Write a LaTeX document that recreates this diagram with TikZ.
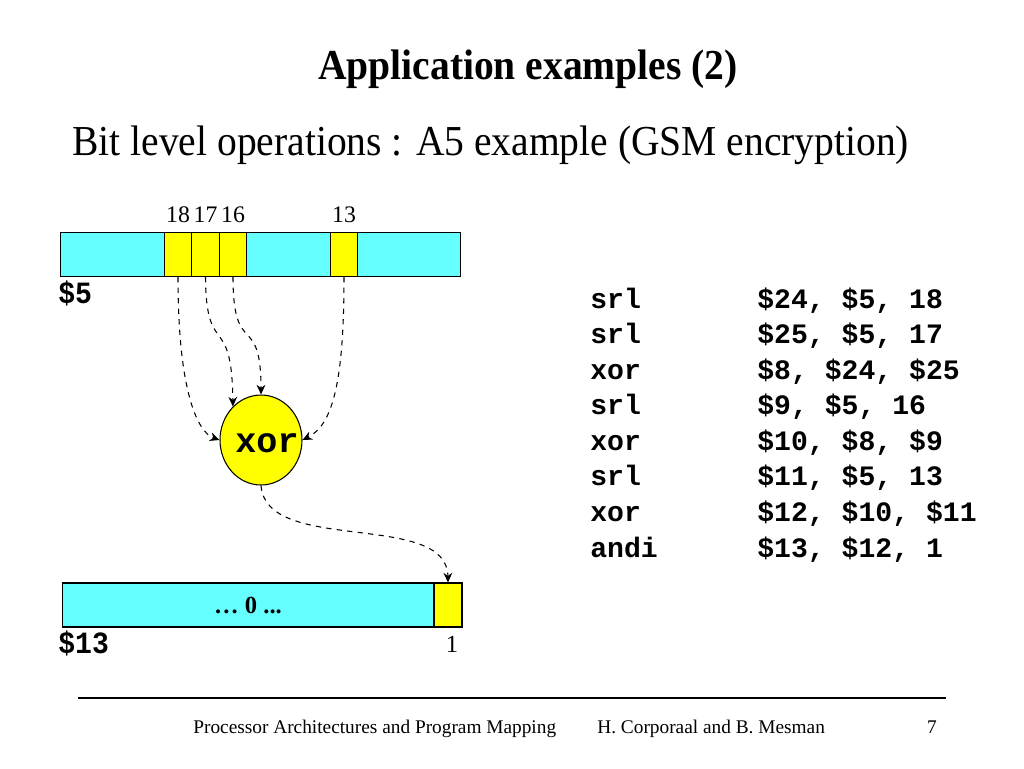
\documentclass[tikz,border=0pt]{standalone}
\usepackage{fontspec}
\setmainfont{Liberation Serif}
\setmonofont{Liberation Mono}
\usepackage{tikz}
\usetikzlibrary{positioning, calc}
\usetikzlibrary{shapes.geometric, arrows.meta}
\definecolor{regcyan}{RGB}{102,255,255}
\definecolor{bityellow}{RGB}{255,255,0}
\tikzset{
  reg/.style={draw, fill=regcyan, line width=0.6pt, minimum height=0.88cm, inner sep=0pt},
  bitcell/.style={draw, fill=bityellow, line width=0.6pt, minimum height=0.88cm, minimum width=0.55cm, inner sep=0pt},
  bitlabel/.style={inner sep=0pt, font=\fontsize{13.5}{16}\selectfont},
  code/.style={inner sep=0pt, font=\fontsize{16}{19}\selectfont\ttfamily\bfseries},
  bigcode/.style={inner sep=0pt, font=\fontsize{20}{24}\selectfont\ttfamily\bfseries},
  flow/.style={dashed, line width=0.6pt, -{Stealth[length=5.5pt,width=5pt]}}
}
\begin{document}
\begin{tikzpicture}[x=0.02cm, y=-0.02cm]
  \useasboundingbox (0,0) rectangle (1024,768);
  % title
  \node[inner sep=0pt, anchor=base, font=\fontsize{22.5}{27}\selectfont\bfseries] (title) at (528,79) {\scalebox{1}[1.08]{Application examples (2)}};
  \node[inner sep=0pt, anchor=base west, font=\fontsize{22.5}{27}\selectfont] (subtitle) at (72,155) {\scalebox{1}[1.08]{Bit level operations : A5 example (GSM encryption)}};
  % register $5
  \node[reg, minimum width=8.02cm] (reg5) at (260.5,254.5) {};
  \node[bitcell] (b18) at (178,254.5) {};
  \node[bitcell] (b17) at (205.5,254.5) {};
  \node[bitcell] (b16) at (233,254.5) {};
  \node[bitcell] (b13) at (344,254.5) {};
  \node[bitlabel, anchor=south, above=0.18cm of b18] (l18) {18};
  \node[bitlabel, anchor=south, above=0.18cm of b17] (l17) {17};
  \node[bitlabel, anchor=south, above=0.18cm of b16] (l16) {16};
  \node[bitlabel, anchor=south, above=0.18cm of b13] (l13) {13};
  \node[code, anchor=base west] (name5) at (58,303) {\scalebox{1}[1.1]{\$5}};
  % xor
  \node[draw, fill=bityellow, ellipse, line width=0.6pt, minimum width=1.64cm, minimum height=1.8cm, inner sep=0pt] (xorop) at (261,440) {};
  \node[bigcode, anchor=base] (xortext) at (267,452) {xor};
  \draw[flow] (b18.south) .. controls (178,390) and (197,432) .. (xorop.west);
  \draw[flow] (b17.south) .. controls (206,360) and (232,310) .. (xorop.130);
  \draw[flow] (b16.south) .. controls (233,360) and (261,310) .. (xorop.north);
  \draw[flow] (b13.south) .. controls (344,385) and (332,425) .. (xorop.east);
  % register $13
  \node[reg, minimum width=7.44cm, font=\fontsize{14}{17}\selectfont\bfseries] (reg13) at (248,605) {… 0 ...};
  \node[bitcell, minimum width=0.56cm] (b1) at (448,605) {};
  \node[code, anchor=base west] (name13) at (58,653) {\scalebox{1}[1.1]{\$13}};
  \node[bitlabel, anchor=base, font=\fontsize{14}{17}\selectfont] (l1) at (452,652) {1};
  \draw[flow] (xorop.south) .. controls (266,555) and (447,510) .. (b1.north);
  % code
  \foreach \op/\args [count=\i from 0] in {srl/{\$24, \$5, 18}, srl/{\$25, \$5, 17}, xor/{\$8, \$24, \$25}, srl/{\$9, \$5, 16}, xor/{\$10, \$8, \$9}, srl/{\$11, \$5, 13}, xor/{\$12, \$10, \$11}, andi/{\$13, \$12, 1}}
  {
    \node[code, anchor=base west] (op\i) at (590,308+35.57*\i) {\op};
    \node[code, anchor=base west] (arg\i) at (757,308+35.57*\i) {\args};
  }
  % footer
  \draw[line width=1pt] (78,698) -- (946,698);
  \node[inner sep=0pt, anchor=base west, font=\fontsize{11}{13}\selectfont] (foot1) at (193,733) {Processor Architectures and Program Mapping};
  \node[inner sep=0pt, anchor=base west, font=\fontsize{11}{13}\selectfont] (foot2) at (597,733) {H. Corporaal and B. Mesman};
  \node[inner sep=0pt, anchor=base, font=\fontsize{11}{13}\selectfont] (foot3) at (932,733) {7};
\end{tikzpicture}
\end{document}
